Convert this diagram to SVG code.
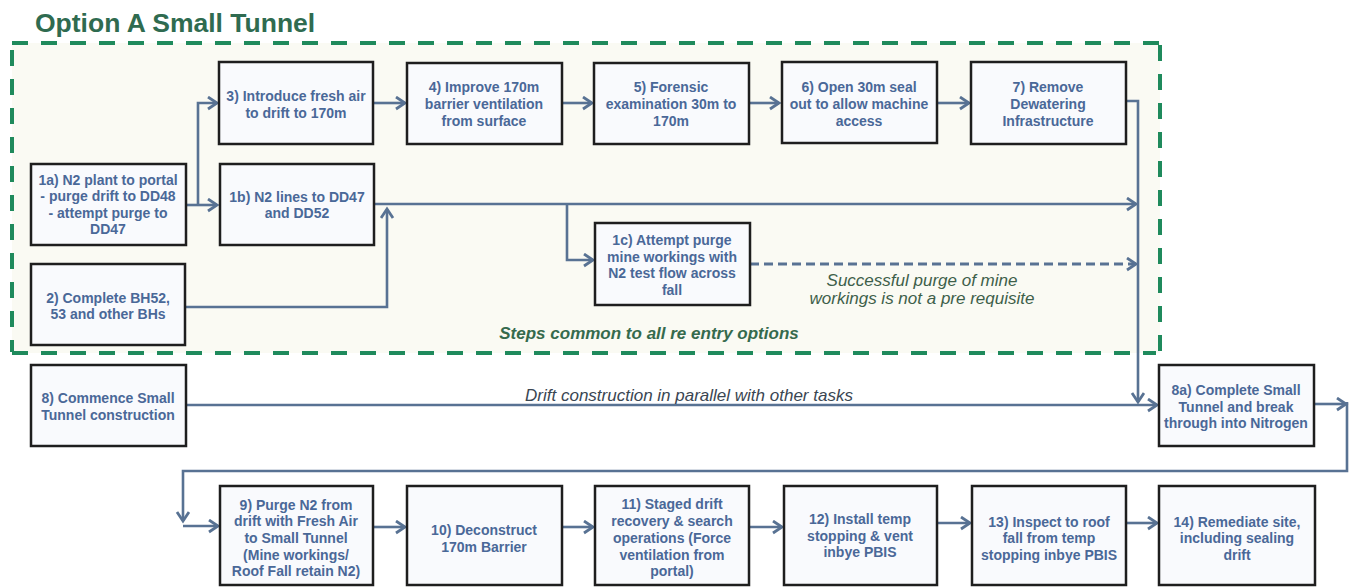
<svg xmlns="http://www.w3.org/2000/svg" width="1352" height="587" viewBox="0 0 1352 587">
  <style>
    .box { fill: #f9fafd; stroke: #1e1e1e; stroke-width: 2.5; }
    .lbl { font-family: "Liberation Sans", Arial, sans-serif; font-size: 14px; font-weight: bold; fill: #4a6898; text-anchor: middle; }
    .con { fill: none; stroke: #587293; stroke-width: 2.6; }
    .dash { stroke-dasharray: 9 5; stroke-width: 3; }
    .note { font-family: "Liberation Sans", Arial, sans-serif; font-style: italic; font-size: 17px; text-anchor: middle; }
    .frame { fill: none; stroke: #1f8a5c; stroke-width: 4; stroke-dasharray: 16 13; }
  </style>
  <defs>
    <marker id="arrow" markerUnits="userSpaceOnUse" markerWidth="14" markerHeight="16" refX="10" refY="7" orient="auto">
      <path d="M1,1 L10,7 L1,13" fill="none" stroke="#587293" stroke-width="2.8"/>
    </marker>
  </defs>

  <rect width="1352" height="587" fill="#ffffff"/>

  <!-- title -->
  <text x="35" y="32" font-family="Liberation Sans, Arial, sans-serif" font-size="26.5" font-weight="bold" fill="#2f6b50">Option A Small Tunnel</text>

  <!-- common-steps frame -->
  <g id="common-frame">
    <rect x="12" y="43" width="1148" height="310" fill="#fafaf3"/>
    <path class="frame" d="M12,43 H1160"/>
    <path class="frame" d="M12,353 H1156"/>
    <path class="frame" d="M1160,45 V352"/>
    <path class="frame" d="M12,50 V352" stroke-width="2.5"/>
  </g>

  <!-- connectors -->
  <g id="connectors">
    <path class="con" d="M186,205 H217" marker-end="url(#arrow)"/>
    <path class="con" d="M198,205 V103 H217" marker-end="url(#arrow)"/>
    <path class="con" d="M373,103 H405" marker-end="url(#arrow)"/>
    <path class="con" d="M562,103 H592" marker-end="url(#arrow)"/>
    <path class="con" d="M749,103 H779" marker-end="url(#arrow)"/>
    <path class="con" d="M937,103 H969" marker-end="url(#arrow)"/>
    <path class="con" d="M185,307 H387 V209" marker-end="url(#arrow)"/>
    <path class="con" d="M374,204 H1136" marker-end="url(#arrow)"/>
    <path class="con" d="M567,204 V260 H593" marker-end="url(#arrow)"/>
    <path class="con dash" d="M750,264 H1136" marker-end="url(#arrow)"/>
    <path class="con" d="M1126,101 H1138 V402" marker-end="url(#arrow)"/>
    <path class="con" d="M186,405 H1157" marker-end="url(#arrow)"/>
    <path class="con" d="M1314,404 H1346" marker-end="url(#arrow)"/>
    <path class="con" d="M1347,402 V471 H183 V521" marker-end="url(#arrow)"/>
    <path class="con" d="M183,526 H218" marker-end="url(#arrow)"/>
    <path class="con" d="M373,527 H405" marker-end="url(#arrow)"/>
    <path class="con" d="M562,527 H593" marker-end="url(#arrow)"/>
    <path class="con" d="M749,527 H782" marker-end="url(#arrow)"/>
    <path class="con" d="M937,523 H970" marker-end="url(#arrow)"/>
    <path class="con" d="M1126,523 H1157" marker-end="url(#arrow)"/>
  </g>

  <!-- connector notes -->
  <text class="note" x="922" y="286" fill="#3e5f4a">Successful purge of mine</text>
  <text class="note" x="922" y="304" fill="#3e5f4a">workings is not a pre requisite</text>
  <text class="note" x="649" y="339" font-size="16.5" font-weight="bold" fill="#356a4d">Steps common  to all re entry options</text>
  <text class="note" x="689" y="401" fill="#3a4652">Drift construction in parallel with other tasks</text>

  <!-- top row -->
  <g id="n3">
    <rect class="box" x="219" y="62" width="154" height="82"/>
    <text class="lbl" x="296" y="101">3) Introduce fresh air</text>
    <text class="lbl" x="296" y="118">to drift to 170m</text>
  </g>
  <g id="n4">
    <rect class="box" x="407" y="63" width="155" height="81"/>
    <text class="lbl" x="484" y="92">4) Improve 170m</text>
    <text class="lbl" x="484" y="109">barrier ventilation</text>
    <text class="lbl" x="484" y="126">from surface</text>
  </g>
  <g id="n5">
    <rect class="box" x="594" y="63" width="155" height="81"/>
    <text class="lbl" x="671" y="92">5) Forensic</text>
    <text class="lbl" x="671" y="109">examination  30m to</text>
    <text class="lbl" x="671" y="126">170m</text>
  </g>
  <g id="n6">
    <rect class="box" x="782" y="62" width="155" height="81"/>
    <text class="lbl" x="859" y="92">6) Open 30m seal</text>
    <text class="lbl" x="859" y="109">out to allow machine</text>
    <text class="lbl" x="859" y="126">access</text>
  </g>
  <g id="n7">
    <rect class="box" x="971" y="62" width="155" height="82"/>
    <text class="lbl" x="1048" y="92">7) Remove</text>
    <text class="lbl" x="1048" y="109">Dewatering</text>
    <text class="lbl" x="1048" y="126">Infrastructure</text>
  </g>

  <!-- nitrogen steps -->
  <g id="n1a">
    <rect class="box" x="31" y="164" width="155" height="81"/>
    <text class="lbl" x="108" y="185">1a) N2 plant to portal</text>
    <text class="lbl" x="108" y="201">- purge drift to DD48</text>
    <text class="lbl" x="108" y="218">- attempt purge to</text>
    <text class="lbl" x="108" y="234">DD47</text>
  </g>
  <g id="n1b">
    <rect class="box" x="220" y="164" width="154" height="81"/>
    <text class="lbl" x="297" y="202">1b) N2 lines to DD47</text>
    <text class="lbl" x="297" y="218">and DD52</text>
  </g>
  <g id="n2">
    <rect class="box" x="31" y="264" width="154" height="81"/>
    <text class="lbl" x="108" y="303">2) Complete BH52,</text>
    <text class="lbl" x="108" y="319">53 and other BHs</text>
  </g>
  <g id="n1c">
    <rect class="box" x="595" y="223" width="155" height="82"/>
    <text class="lbl" x="672" y="245">1c) Attempt purge</text>
    <text class="lbl" x="672" y="262">mine workings with</text>
    <text class="lbl" x="672" y="278">N2 test flow across</text>
    <text class="lbl" x="672" y="295">fall</text>
  </g>

  <!-- small tunnel -->
  <g id="n8">
    <rect class="box" x="31" y="365" width="155" height="81"/>
    <text class="lbl" x="108" y="403">8) Commence Small</text>
    <text class="lbl" x="108" y="420">Tunnel construction</text>
  </g>
  <g id="n8a">
    <rect class="box" x="1159" y="365" width="155" height="81"/>
    <text class="lbl" x="1236" y="395">8a) Complete Small</text>
    <text class="lbl" x="1236" y="412">Tunnel and break</text>
    <text class="lbl" x="1236" y="428">through into Nitrogen</text>
  </g>

  <!-- recovery row -->
  <g id="n9">
    <rect class="box" x="220" y="486" width="153" height="99"/>
    <text class="lbl" x="296" y="510">9) Purge N2 from</text>
    <text class="lbl" x="296" y="526">drift with Fresh Air</text>
    <text class="lbl" x="296" y="543">to Small Tunnel</text>
    <text class="lbl" x="296" y="560">(Mine workings/</text>
    <text class="lbl" x="296" y="576">Roof Fall retain N2)</text>
  </g>
  <g id="n10">
    <rect class="box" x="407" y="486" width="155" height="99"/>
    <text class="lbl" x="484" y="535">10) Deconstruct</text>
    <text class="lbl" x="484" y="552">170m Barrier</text>
  </g>
  <g id="n11">
    <rect class="box" x="595" y="486" width="154" height="99"/>
    <text class="lbl" x="672" y="509">11) Staged drift</text>
    <text class="lbl" x="672" y="526">recovery &amp; search</text>
    <text class="lbl" x="672" y="543">operations (Force</text>
    <text class="lbl" x="672" y="560">ventilation from</text>
    <text class="lbl" x="672" y="576">portal)</text>
  </g>
  <g id="n12">
    <rect class="box" x="784" y="486" width="153" height="99"/>
    <text class="lbl" x="860" y="524">12) Install temp</text>
    <text class="lbl" x="860" y="541">stopping &amp; vent</text>
    <text class="lbl" x="860" y="557">inbye PBIS</text>
  </g>
  <g id="n13">
    <rect class="box" x="972" y="486" width="154" height="99"/>
    <text class="lbl" x="1049" y="527">13) Inspect to roof</text>
    <text class="lbl" x="1049" y="543">fall from temp</text>
    <text class="lbl" x="1049" y="560">stopping inbye PBIS</text>
  </g>
  <g id="n14">
    <rect class="box" x="1159" y="486" width="156" height="99"/>
    <text class="lbl" x="1237" y="527">14) Remediate site,</text>
    <text class="lbl" x="1237" y="543">including sealing</text>
    <text class="lbl" x="1237" y="560">drift</text>
  </g>
</svg>
